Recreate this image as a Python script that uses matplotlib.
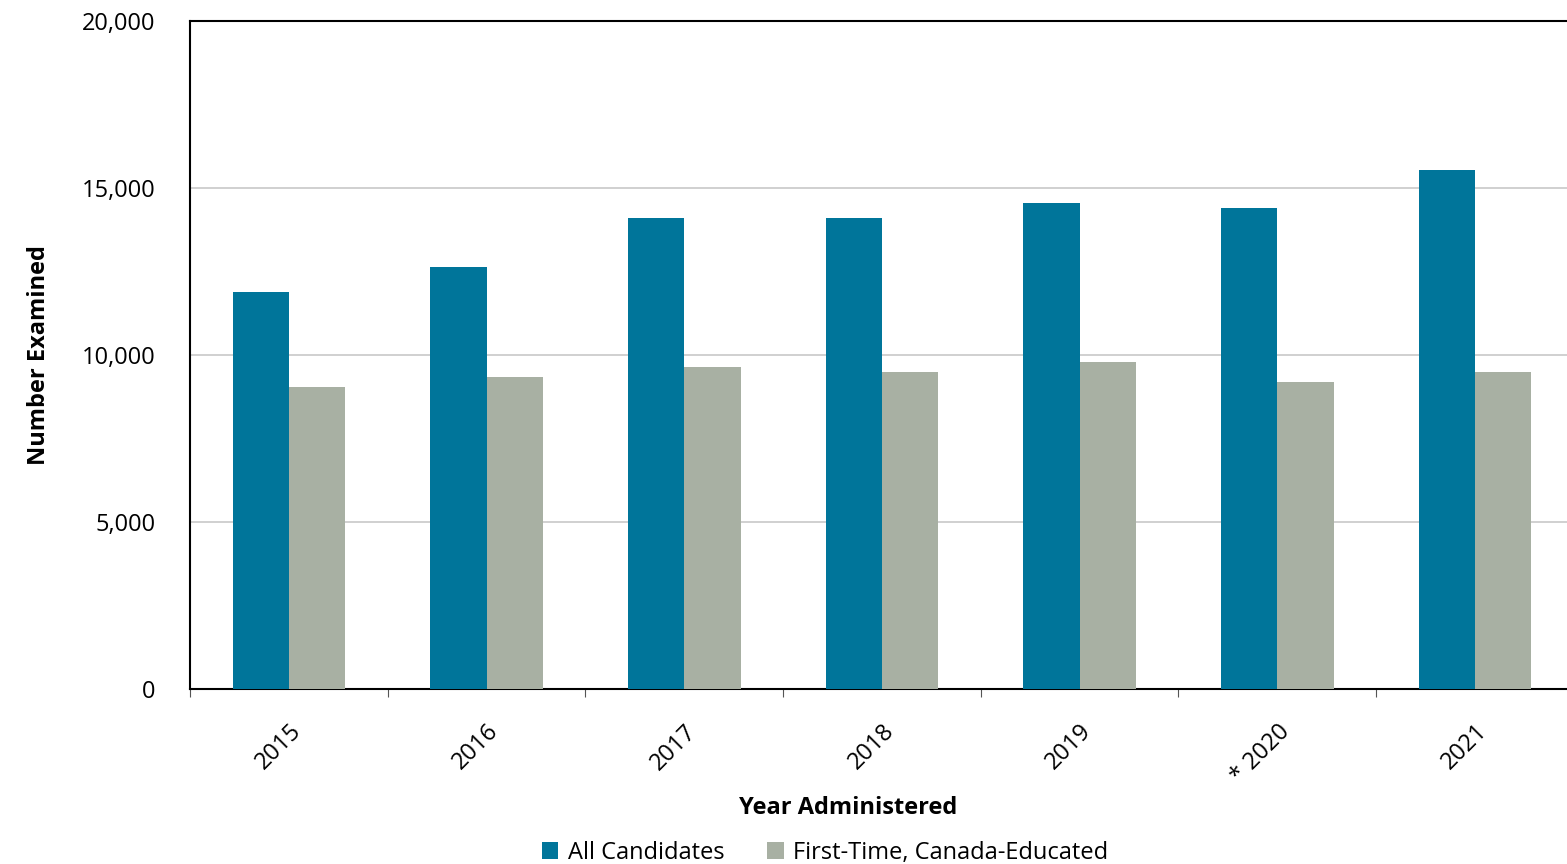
import matplotlib.pyplot as plt
import numpy as np
from matplotlib.ticker import FuncFormatter

plt.rcParams['font.family'] = ['Open Sans', 'DejaVu Sans']

years = ["2015", "2016", "2017", "2018", "2019", "* 2020", "2021"]
all_candidates = [11890, 12630, 14100, 14100, 14550, 14400, 15540]
first_time = [9040, 9340, 9640, 9490, 9790, 9190, 9490]

fig = plt.figure(figsize=(15.67, 8.64), dpi=100)
ax = fig.add_axes([190 / 1567, 1 - 689 / 864, 1 - 190 / 1567, (689 - 21) / 864])

x = np.arange(len(years))
w = 0.285
ax.bar(x - w / 2, all_candidates, w, color="#00759a", label="All Candidates", zorder=3)
ax.bar(x + w / 2, first_time, w, color="#a8b0a3", label="First-Time, Canada-Educated", zorder=3)

ax.set_xlim(-0.5, -0.5 + 1377 / 197.7)
ax.set_ylim(0, 20000)
ax.set_yticks(range(0, 20001, 5000))
ax.yaxis.set_major_formatter(FuncFormatter(lambda v, p: f"{int(v):,}"))
ax.grid(axis="y", color="#c8c8c8", linewidth=1.2, zorder=0)
ax.set_xticks(np.arange(-0.5, 6.5, 1), minor=False)
ax.set_xticklabels([])
ax.set_xticks(x, minor=True)
ax.set_xticklabels(years, minor=True, rotation=45, ha="right", rotation_mode="anchor", fontsize=17)
ax.tick_params(axis="x", which="minor", length=0, pad=22)
ax.tick_params(axis="x", which="major", length=6, color="#555555")
ax.tick_params(axis="y", length=0, labelsize=17, pad=25)
for s in ["left", "bottom", "top"]:
    ax.spines[s].set_color("black")
    ax.spines[s].set_linewidth(1.5)
ax.spines["right"].set_visible(False)

ax.set_ylabel("Number Examined", fontsize=17, fontweight="bold", labelpad=22)
ax.set_xlabel("Year Administered", fontsize=17, fontweight="bold")
ax.xaxis.set_label_coords((848 - 190) / 1377, -0.16)

ax.legend(loc="upper center", bbox_to_anchor=((825 - 190) / 1377, -0.195), ncol=2,
          frameon=False, fontsize=17, handlelength=0.7, handleheight=0.7,
          handletextpad=0.4, columnspacing=1.8)

fig.savefig("out.png", dpi=100)
